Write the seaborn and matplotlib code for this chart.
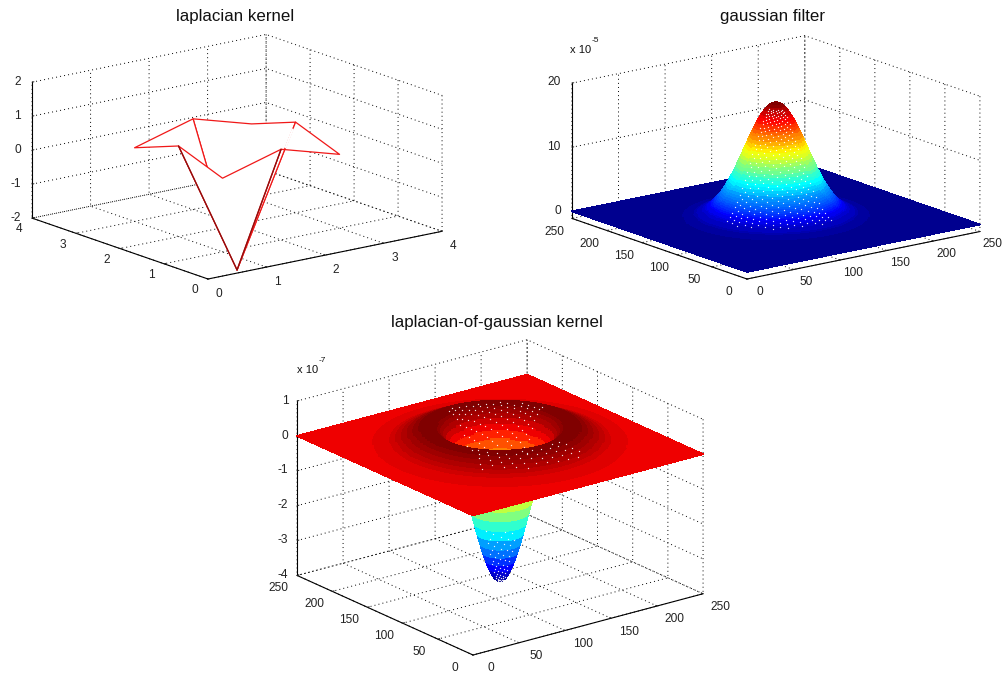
import numpy as np
import seaborn as sns
import matplotlib
matplotlib.use("Agg")
import matplotlib.pyplot as plt
from matplotlib.colors import ListedColormap, Normalize
from matplotlib.transforms import ScaledTranslation
from mpl_toolkits.mplot3d import proj3d

sns.set_theme(style="white")
plt.rcParams['font.family'] = ['Liberation Sans', 'DejaVu Sans']
plt.rcParams['axes.unicode_minus'] = False

# ---- data ----
kernel_axis = [1, 2, 3]
kernel_values = [[0.167, 0.667, 0.167],
                 [0.667, -3.33, 0.667],
                 [0.167, 0.667, 0.167]]
gauss_radii = [0, 2.5, 5, 7.5, 10, 12.5, 13.75, 15, 16.25, 17.5, 18.75, 20, 21.25, 22.5,
               23.75, 25, 26.25, 27.5, 28.75, 30, 31.25, 32.5, 33.75, 35, 36.25, 37.5,
               38.75, 40, 41.25, 42.5, 43.75, 45, 46.25, 47.5, 48.75, 50, 51.25, 52.5,
               53.75, 55, 56.25, 57.5, 58.75, 60, 62.5, 65, 67.5, 70, 72.5, 75,
               80, 85, 90, 95, 100, 110, 120, 125]
gauss_height = [18.00, 17.92, 17.69, 17.32, 16.81, 16.17, 15.81, 15.43, 15.02, 14.59,
                14.14, 13.68, 13.21, 12.72, 12.23, 11.73, 11.22, 10.71, 10.21, 9.71,
                9.21, 8.73, 8.24, 7.77, 7.31, 6.86, 6.43, 6.01, 5.60, 5.22, 4.84, 4.49,
                4.15, 3.83, 3.53, 3.24, 2.97, 2.72, 2.48, 2.26, 2.06, 1.86, 1.69, 1.52,
                1.23, 0.99, 0.79, 0.62, 0.49, 0.38,
                0.22, 0.13, 0.07, 0.04, 0.02, 0.005, 0, 0]
log_radii = [0, 2.5, 5, 7.5, 10, 12.5, 15, 17.5, 20, 22.5, 25, 27.5, 30, 32.5, 35, 37.5,
             40, 42.5, 45, 47.5, 50, 52.5, 55, 57.5, 60, 62.5, 65, 67.5, 70, 72.5, 75,
             80, 85, 90, 95, 100, 110, 120, 125]
log_height = [-3.90, -3.87, -3.80, -3.68, -3.51, -3.30, -3.06, -2.80, -2.51, -2.21,
              -1.90, -1.60, -1.30, -1.01, -0.75, -0.50, -0.28, -0.09, 0.07, 0.21, 0.32,
              0.40, 0.46, 0.50, 0.52, 0.53, 0.52, 0.50, 0.47, 0.44, 0.40,
              0.33, 0.25, 0.19, 0.13, 0.09, 0.04, 0.014, 0]
ticks_small = [0, 1, 2, 3, 4]
ticks_large = [0, 50, 100, 150, 200, 250]
ztick_kernel = [-2, -1, 0, 1, 2]
ztick_gauss = [0, 10, 20]
ztick_log = [-4, -3, -2, -1, 0, 1]
titles = ["laplacian kernel", "gaussian filter", "laplacian-of-gaussian kernel"]

W, H = 1006, 675
fig = plt.figure(figsize=(W / 100, H / 100), dpi=100, facecolor="white")
AZ = -127.5

# the 64-level jet table used by the original plotting package
_u = np.r_[np.arange(1, 17) / 16, np.ones(15), np.arange(16, 0, -1) / 16]
_tab = np.zeros((64, 3))
for _i, _v in enumerate(_u):
    for _ch, _idx in ((0, 24 + _i), (1, 8 + _i), (2, _i - 8)):
        if 0 <= _idx < 64:
            _tab[_idx, _ch] = _v
jet = ListedColormap(_tab)


def shift_labels(ax, axis, off):
    orig = axis.get_major_ticks

    def patched(numticks=None):
        ticks = orig(numticks)
        for t in ticks:
            t.label1.set_transform(ax.transData + off)
        return ticks
    axis.get_major_ticks = patched


def make_axes(lim, zlim, xt, zt, elev, aspect, left, right, origin, shifts):
    ax = fig.add_axes([0.1, 0.1, 0.5, 0.5 * W / H], projection="3d", proj_type="ortho",
                      computed_zorder=False)
    ax.patch.set_alpha(0)
    ax.set_xlim(0, lim); ax.set_ylim(0, lim); ax.set_zlim(*zlim)
    ax.view_init(elev=elev, azim=AZ)
    ax.set_box_aspect(aspect)
    ax.set_xticks(xt); ax.set_yticks(xt); ax.set_zticks(zt)
    ax.tick_params(labelsize=8.6, colors='#222222', pad=0)
    ax.grid(True)
    for a in (ax.xaxis, ax.yaxis, ax.zaxis):
        a.pane.set_visible(False)
        a._axinfo['grid'].update(color='black', linestyle=(0, (1, 3.2)), linewidth=0.7)
        a.line.set_color('black')
        a.line.set_linewidth(0.8)
        a._axinfo['tick']['inward_factor'] = 0.0
        a._axinfo['tick']['outward_factor'] = 0.1
        a._axinfo['tick']['linewidth'] = {True: 0.7, False: 0.5}

    def px(x, y, z):
        xs, ys, _ = proj3d.proj_transform(x, y, z, ax.get_proj())
        return ax.transData.transform((xs, ys))

    zb = zlim[0]
    ax.apply_aspect()
    p0, p1 = px(0, lim, zb), px(lim, 0, zb)
    pos = ax.get_position()
    scale = (right[0] - left[0]) / (p1[0] - p0[0])
    ax.set_position([pos.x0, pos.y0, pos.width * scale, pos.height * scale])
    ax.apply_aspect()
    p = px(0, 0, zb)
    pos = ax.get_position()
    dx = (origin[0] - p[0]) / W
    dy = ((H - origin[1]) - p[1]) / H
    ax.set_position([pos.x0 + dx, pos.y0 + dy, pos.width, pos.height])
    ax.apply_aspect()

    # nudge tick labels (pixels) so they sit where the reference has them
    for a, (sx, sy) in zip((ax.xaxis, ax.yaxis, ax.zaxis), shifts):
        shift_labels(ax, a, ScaledTranslation(sx / 100, sy / 100, fig.dpi_scale_trans))
    for t in ax.zaxis.get_major_ticks():
        t.label1.set_ha('right')
    return ax


def revolve(ax, radii, heights, vmin, vmax):
    r = np.asarray(radii, float)
    z = np.asarray(heights, float)
    th = np.deg2rad(np.arange(0, 360.01, 1.5))
    sq = 125 / np.maximum(np.abs(np.cos(th)), np.abs(np.sin(th)))
    R = np.vstack([np.outer(r, np.ones_like(th)), sq])
    Z = np.outer(np.r_[z, z[-1]], np.ones_like(th))
    X = 125 + R * np.cos(th)
    Y = 125 + R * np.sin(th)
    zmid = np.r_[(z[:-1] + z[1:]) / 2, z[-1], z[-1]]
    C = jet(Normalize(vmin, vmax)(np.outer(zmid, np.ones_like(th))))
    ax.plot_surface(X, Y, Z, rstride=1, cstride=1, facecolors=C, shade=False,
                    linewidth=0.5, antialiased=False, zorder=1)


def specks(ax, radii, heights, rlo, rhi, centre_deg, half_deg, swirl=0.1, dth=7.0, step=3.2):
    # the fine white moire left by the mesh on the steep faces
    r = np.asarray(radii, float)
    z = np.asarray(heights, float)
    xs, ys, zs = [], [], []
    for k, deg in enumerate(np.arange(centre_deg - half_deg, centre_deg + half_deg + 0.1, dth)):
        rq = np.arange(rlo + (k * 1.3) % step, rhi, step)
        t = np.deg2rad(deg + swirl * rq)
        xs.extend(125 + rq * np.cos(t))
        ys.extend(125 + rq * np.sin(t))
        zs.extend(np.interp(rq, r, z))
    ax.scatter(xs, ys, zs, c='white', s=0.9, marker='o', linewidths=0, alpha=0.9,
               depthshade=False, zorder=2)


def label(x, y, s, size, **kw):
    fig.text(x / W, 1 - y / H, s, fontsize=size, color='#111111', **kw)


# ---- laplacian kernel ----
ax1 = make_axes(4, (-2, 2), ticks_small, ztick_kernel, 15.4, (295, 289, 141),
                (32, 217), (442, 232), (208, 279), ((2, 1), (-1, 4), (9.5, 5.5)))
kx, ky = np.meshgrid(kernel_axis, kernel_axis)
kv = np.array(kernel_values)
ax1.plot_surface(kx, ky, kv, rstride=1, cstride=1, color='white',
                 edgecolor='#f01818', linewidth=0.9, shade=False, zorder=1)
for i, j in ((0, 1), (1, 0)):
    ax1.plot([kx[1, 1], kx[i, j]], [ky[1, 1], ky[i, j]], [kv[1, 1], kv[i, j]],
             color='#8a0f0f', lw=0.9, zorder=2)
# the spoke behind the right fold is hidden in the reference
_a, _b = (kx[1, 2], ky[1, 2], kv[1, 2]), (kx[1, 1], ky[1, 1], kv[1, 1])
ax1.plot(*[[p + t * (q - p) for t in (0.05, 0.17)] for p, q in zip(_a, _b)],
         color='white', lw=1.6, zorder=2)

# ---- gaussian filter ----
ax2 = make_axes(250, (-1.1, 20), ticks_large, ztick_gauss, 15.4, (295, 289, 141),
                (569, 217), (977, 232), (747, 279), ((4, 3), (-6, 2), (9.5, 6)))
revolve(ax2, gauss_radii, gauss_height, min(gauss_height), max(gauss_height))
specks(ax2, gauss_radii, gauss_height, 8, 62, -127.5, 50, dth=6)

# ---- laplacian of gaussian ----
ax3 = make_axes(250, (-4, 1), ticks_large, ztick_log, 20.3, (290, 289, 186),
                (297, 575), (703, 594), (473, 655), ((9, 5), (-7, 5), (11, 5.5)))
revolve(ax3, log_radii, log_height, min(log_height), max(log_height))
specks(ax3, log_radii, log_height, 37, 62, 52.5, 42, dth=6, step=4)
specks(ax3, log_radii, log_height, 3, 22.5, -127.5, 36, dth=9)
specks(ax3, log_radii, log_height, 62, 85, -127.5, 36, swirl=0.3, dth=7, step=5.5)

# ---- titles and exponents ----
label(235, 17, titles[0], 12.2, ha='center', va='center')
label(772, 17, titles[1], 12.2, ha='center', va='center')
label(497, 322, titles[2], 12.2, ha='center', va='center')
label(570, 50, "x 10", 8.0, ha='left', va='center')
label(592, 41, "-5", 6.0, ha='left', va='center')
label(297, 370, "x 10", 8.0, ha='left', va='center')
label(319, 360, "-7", 6.0, ha='left', va='center')

fig.savefig("out.png", dpi=100, facecolor="white")
